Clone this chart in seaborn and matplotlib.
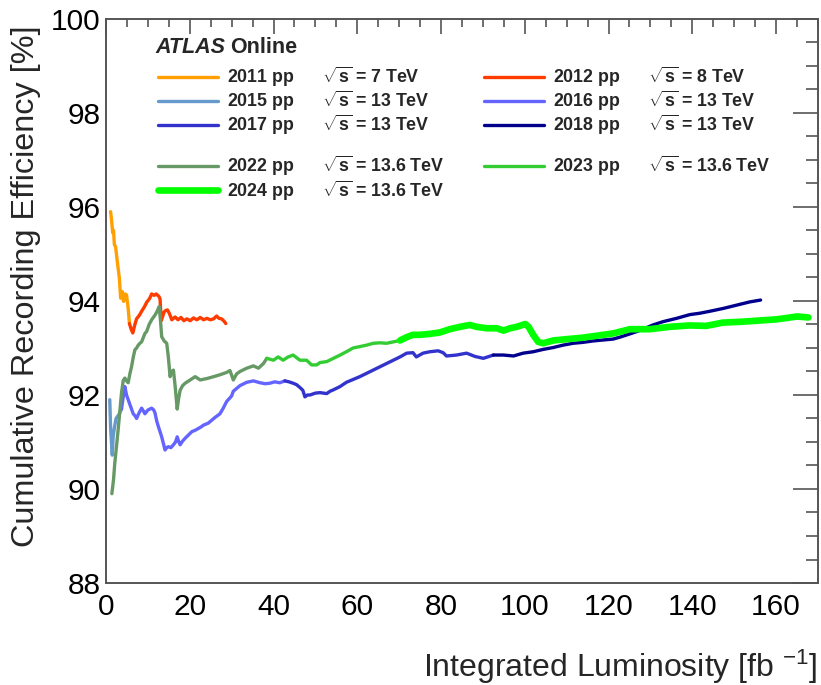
import matplotlib
matplotlib.use("Agg")
import matplotlib.pyplot as plt
import seaborn as sns
from matplotlib.lines import Line2D
from matplotlib.ticker import MultipleLocator

# ---------------- data ----------------
x_2011 = [1.1, 1.3, 1.6, 1.8, 2.0, 2.3, 2.7, 3.2, 3.5, 3.9, 4.2, 4.6, 4.9, 5.3, 5.6]
y_2011 = [95.9, 95.75, 95.45, 95.5, 95.2, 95.15, 94.84, 94.48, 94.06, 94.2, 93.99, 94.15, 94.13, 93.84, 93.52]

x_2012 = [5.6, 6.0, 6.4, 6.9, 7.3, 8.0, 8.5, 9.2, 9.7, 10.4, 10.9, 11.5, 12.0, 12.6, 12.9, 13.2,
          13.9, 14.3, 14.7, 15.2, 15.7, 16.5, 17.2, 17.9, 18.6, 19.3, 20.1, 20.9, 21.7, 22.5, 23.3,
          24.1, 24.9, 25.7, 26.4, 27.0, 27.6, 28.2, 28.6]
y_2012 = [93.52, 93.4, 93.32, 93.5, 93.62, 93.7, 93.78, 93.88, 93.97, 94.05, 94.15, 94.12, 94.15,
          94.1, 94.05, 93.58, 93.77, 93.8, 93.81, 93.72, 93.6, 93.66, 93.6, 93.65, 93.58, 93.62,
          93.58, 93.64, 93.6, 93.65, 93.6, 93.63, 93.6, 93.62, 93.68, 93.63, 93.62, 93.57, 93.52]

x_2015 = [0.9, 1.0, 1.1, 1.3, 1.5, 1.7, 2.0, 2.4, 2.8, 3.2, 3.7]
y_2015 = [91.9, 91.6, 91.3, 91.0, 90.72, 91.1, 91.3, 91.5, 91.55, 91.6, 91.7]

x_2016 = [3.7, 4.1, 4.5, 4.9, 5.3, 5.9, 6.5, 7.0, 7.3, 7.9, 8.5, 9.0, 9.3, 10.0, 10.9, 11.4, 11.7,
          12.1, 12.5, 13.3, 14.1, 14.5, 14.9, 15.5, 16.1, 16.6, 17.0, 17.4, 17.7, 18.3, 18.9, 19.7,
          20.5, 21.3, 22.1, 22.7, 23.3, 24.4, 25.2, 26.0, 27.2, 28.0, 28.8, 30.0, 30.4, 32.0, 33.6,
          35.2, 36.8, 38.0, 39.1, 40.3, 41.5, 42.7]
y_2016 = [91.7, 91.95, 92.18, 92.0, 91.9, 91.75, 91.6, 91.55, 91.5, 91.62, 91.72, 91.65, 91.6,
          91.68, 91.72, 91.68, 91.62, 91.45, 91.33, 91.11, 90.83, 90.88, 90.9, 90.88, 90.94, 91.0,
          91.11, 91.0, 90.94, 91.02, 91.08, 91.15, 91.22, 91.25, 91.29, 91.32, 91.36, 91.4, 91.46,
          91.52, 91.6, 91.72, 91.86, 91.98, 92.08, 92.2, 92.27, 92.3, 92.26, 92.24, 92.25, 92.28,
          92.26, 92.3]

x_2017 = [42.7, 43.7, 44.7, 45.5, 46.3, 47.0, 47.5, 48.1, 48.7, 50.0, 51.1, 52.7, 53.5, 54.3, 55.9,
          57.4, 59.0, 60.6, 62.2, 63.8, 65.4, 67.0, 68.6, 70.2, 71.8, 73.3, 74.1, 75.7, 77.3, 79.3,
          80.5, 81.3, 83.7, 86.1, 88.1, 90.1, 92.5]
y_2017 = [92.3, 92.28, 92.25, 92.22, 92.16, 92.1, 91.96, 92.0, 92.0, 92.04, 92.05, 92.03, 92.08,
          92.11, 92.18, 92.27, 92.33, 92.39, 92.46, 92.53, 92.6, 92.67, 92.74, 92.81, 92.89, 92.9,
          92.81, 92.89, 92.92, 92.94, 92.9, 92.83, 92.85, 92.89, 92.82, 92.78, 92.85]

x_2018 = [92.5, 94.9, 97.3, 99.6, 102.0, 104.4, 106.8, 109.1, 111.5, 113.9, 116.3, 118.7, 121.1,
          122.7, 125.1, 127.4, 130.6, 133.0, 136.2, 139.4, 141.8, 144.1, 147.3, 150.5, 153.7, 156.3]
y_2018 = [92.85, 92.85, 92.83, 92.89, 92.92, 92.97, 93.01, 93.06, 93.1, 93.12, 93.15, 93.17,
          93.19, 93.23, 93.3, 93.37, 93.49, 93.56, 93.63, 93.71, 93.74, 93.78, 93.84, 93.91,
          93.98, 94.02]

x_2022 = [1.4, 1.8, 2.1, 2.5, 2.9, 3.3, 3.7, 4.1, 4.5, 4.9, 5.3, 5.7, 6.1, 6.5, 6.9, 7.3, 7.7, 8.1,
          8.5, 9.3, 9.7, 10.3, 10.9, 11.7, 12.2, 12.7, 13.0, 13.3, 13.9, 14.5, 14.9, 15.3, 15.7,
          16.1, 16.5, 17.0, 17.3, 17.7, 18.3, 18.9, 20.1, 21.3, 22.5, 24.1, 25.7, 27.2, 28.8, 29.6,
          30.4, 31.2, 32.0, 33.6, 35.2, 36.4, 37.6, 38.4]
y_2022 = [89.9, 90.2, 90.55, 90.9, 91.26, 91.65, 92.04, 92.3, 92.36, 92.3, 92.26, 92.45, 92.6,
          92.8, 92.96, 93.0, 93.06, 93.1, 93.13, 93.31, 93.35, 93.5, 93.6, 93.7, 93.78, 93.88,
          93.6, 93.24, 93.15, 93.1, 92.8, 92.39, 92.5, 92.53, 92.2, 91.7, 91.9, 92.1, 92.2, 92.25,
          92.32, 92.39, 92.32, 92.35, 92.39, 92.43, 92.48, 92.52, 92.32, 92.45, 92.5, 92.57,
          92.62, 92.57, 92.67, 92.78]

x_2023 = [38.4, 40.0, 41.1, 42.3, 43.5, 44.7, 46.3, 47.9, 49.1, 50.3, 51.1, 52.7, 54.3, 55.9,
          57.4, 59.0, 60.6, 62.2, 63.8, 65.4, 67.0, 68.6, 70.2]
y_2023 = [92.78, 92.74, 92.81, 92.74, 92.81, 92.85, 92.74, 92.74, 92.64, 92.64, 92.69, 92.71,
          92.78, 92.85, 92.92, 93.0, 93.03, 93.06, 93.1, 93.11, 93.1, 93.13, 93.16]

x_2024 = [70.2, 71.8, 73.3, 75.0, 77.3, 79.7, 82.1, 84.5, 86.9, 88.5, 90.9, 93.3, 94.9, 96.5,
          98.1, 100.1, 100.9, 102.0, 103.2, 104.4, 106.8, 109.1, 111.5, 113.9, 116.3, 118.7,
          121.1, 125.1, 129.8, 134.6, 139.4, 143.3, 147.3, 152.1, 155.3, 160.2, 165.0, 167.7]
y_2024 = [93.16, 93.23, 93.28, 93.28, 93.3, 93.33, 93.4, 93.45, 93.49, 93.45, 93.42, 93.42,
          93.37, 93.42, 93.45, 93.51, 93.45, 93.28, 93.13, 93.1, 93.16, 93.18, 93.2, 93.22,
          93.25, 93.28, 93.31, 93.4, 93.4, 93.45, 93.48, 93.47, 93.54, 93.56, 93.58, 93.61,
          93.67, 93.65]

years = ["2011", "2012", "2015", "2016", "2017", "2018", "2022", "2023", "2024"]
energies = ["7", "8", "13", "13", "13", "13", "13.6", "13.6", "13.6"]
xs = [x_2011, x_2012, x_2015, x_2016, x_2017, x_2018, x_2022, x_2023, x_2024]
ys = [y_2011, y_2012, y_2015, y_2016, y_2017, y_2018, y_2022, y_2023, y_2024]
colors = ["#ffa000", "#ff3c00", "#6699cc", "#6464ff", "#3232cc", "#00008c",
          "#669966", "#33cc33", "#00ff00"]
widths = [2.4, 2.4, 2.4, 2.4, 2.4, 2.4, 2.4, 2.4, 4.8]

x_ticks = [0, 20, 40, 60, 80, 100, 120, 140, 160]
y_ticks = [88, 90, 92, 94, 96, 98, 100]

# ---------------- style ----------------
sns.set_style("white")
plt.rcParams['font.family'] = ['Liberation Sans', 'DejaVu Sans']
plt.rcParams['mathtext.fontset'] = 'custom'
plt.rcParams['mathtext.rm'] = 'Liberation Sans'
plt.rcParams['mathtext.bf'] = 'Liberation Sans:bold'
plt.rcParams['mathtext.it'] = 'Liberation Sans:italic'

fig = plt.figure(figsize=(8.21, 6.85), dpi=100)
ax = fig.add_axes([0.1291, 0.1489, 0.8672, 0.8234])

handles = {}
for yr, x, y, c, lw in zip(years, xs, ys, colors, widths):
    sns.lineplot(x=x, y=y, color=c, linewidth=lw, ax=ax, estimator=None,
                 sort=False, legend=False)
    handles[yr] = ax.lines[-1]

ax.set_xlim(0, 170)
ax.set_ylim(88, 100)
ax.set_xticks(x_ticks)
ax.set_yticks(y_ticks)
ax.xaxis.set_minor_locator(MultipleLocator(5))
ax.yaxis.set_minor_locator(MultipleLocator(0.5))

axc = "#555555"
for s in ax.spines.values():
    s.set_color(axc)
    s.set_linewidth(1.4)
ax.tick_params(which='both', direction='in', top=True, right=True,
               color=axc, width=1.2, labelsize=21.5, labelcolor='black')
ax.tick_params(axis='x', which='major', length=11, pad=7)
ax.tick_params(axis='x', which='minor', length=5.5)
ax.tick_params(axis='y', which='major', length=18, pad=4)
ax.tick_params(axis='y', which='minor', length=9)

ax.set_xlabel(r"Integrated Luminosity [fb $^{-1}$]", fontsize=23, loc='right')
ax.xaxis.set_label_coords(1.0, -0.115)
ax.set_ylabel("Cumulative Recording Efficiency [%]", fontsize=23.3, loc='top')
ax.yaxis.set_label_coords(-0.091, 0.988)

# ATLAS label
t = ax.text(0.0688, 0.949, "ATLAS", transform=ax.transAxes, fontsize=15.5,
            fontweight='bold', style='italic', va='center', ha='left')
ax.annotate("Online", xy=(1, 0.5), xycoords=t, xytext=(4, 0),
            textcoords='offset points', fontsize=15.5, fontweight='bold',
            va='center', ha='left')

# legend (two columns, with empty spacer rows)
def lab(yr, e):
    return yr + r" pp$\qquad\sqrt{\mathbf{s}}$ = " + e + " TeV"

labels = {yr: lab(yr, e) for yr, e in zip(years, energies)}
blank = Line2D([], [], color='none')
order_h = [handles["2011"], handles["2015"], handles["2017"], blank, handles["2022"], handles["2024"],
           handles["2012"], handles["2016"], handles["2018"], blank, handles["2023"], blank]
order_l = [labels["2011"], labels["2015"], labels["2017"], " ", labels["2022"], labels["2024"],
           labels["2012"], labels["2016"], labels["2018"], " ", labels["2023"], " "]
leg = ax.legend(order_h, order_l, ncol=2, loc='upper left', bbox_to_anchor=(0.073, 0.918),
                frameon=False, borderpad=0, borderaxespad=0, handlelength=3.4,
                handletextpad=0.5, columnspacing=2.2, labelspacing=0.0,
                prop={'weight': 'bold', 'size': 12.8})

fig.savefig("out.png", dpi=100)
